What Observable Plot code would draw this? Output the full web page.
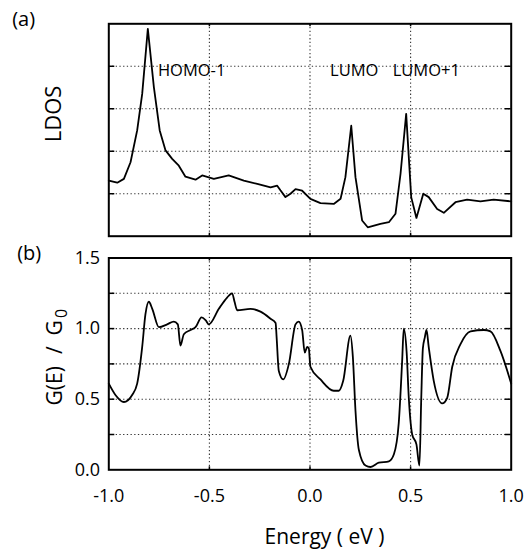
<!DOCTYPE html>
<html><head><meta charset="utf-8">
<script src="https://cdn.jsdelivr.net/npm/d3@7"></script>
<script src="https://cdn.jsdelivr.net/npm/@observablehq/plot@0.6"></script>
<style>
body{margin:0;background:#fff;}
#chart{width:532px;height:552px;}
svg{display:block;overflow:visible;}
</style>
</head><body><div id="chart"></div>
<script>
// Panel (a): LDOS vs energy
const energyA = [-1.0,-0.958,-0.925,-0.892,-0.859,-0.834,-0.806,-0.776,-0.747,-0.718,-0.685,-0.652,-0.619,-0.569,-0.536,-0.478,-0.404,-0.329,-0.262,-0.196,-0.163,-0.147,-0.122,-0.097,-0.072,-0.039,0.002,0.052,0.118,0.152,0.176,0.205,0.226,0.259,0.287,0.350,0.392,0.425,0.450,0.478,0.503,0.529,0.563,0.590,0.632,0.665,0.723,0.781,0.847,0.913,1.0];
const ldos = [1.31,1.26,1.35,1.74,2.49,3.35,4.88,3.51,2.49,2.02,1.82,1.66,1.40,1.33,1.43,1.35,1.43,1.31,1.23,1.15,1.19,1.08,0.92,1.00,1.11,1.07,0.88,0.78,0.76,0.88,1.39,2.60,1.39,0.37,0.21,0.29,0.33,0.53,1.47,2.88,0.92,0.43,1.00,0.92,0.64,0.55,0.80,0.86,0.82,0.86,0.82];

// Panel (b): conductance G(E)/G0 vs energy
const energyB = [-1.0,-0.967,-0.925,-0.884,-0.859,-0.834,-0.818,-0.801,-0.784,-0.751,-0.710,-0.677,-0.657,-0.644,-0.627,-0.594,-0.569,-0.539,-0.519,-0.503,-0.453,-0.412,-0.387,-0.375,-0.362,-0.296,-0.246,-0.196,-0.171,-0.166,-0.155,-0.133,-0.105,-0.072,-0.056,-0.039,-0.026,-0.014,-0.006,0.002,0.052,0.118,0.143,0.165,0.201,0.213,0.226,0.243,0.276,0.301,0.342,0.392,0.417,0.441,0.458,0.466,0.480,0.491,0.508,0.529,0.544,0.553,0.561,0.571,0.579,0.590,0.615,0.657,0.682,0.707,0.748,0.798,0.864,0.897,0.947,1.0];
const conductance = [0.61,0.53,0.48,0.53,0.61,0.87,1.10,1.19,1.14,1.01,1.03,1.05,1.03,0.88,0.96,0.99,1.01,1.08,1.06,1.03,1.14,1.22,1.25,1.19,1.13,1.14,1.12,1.07,1.04,0.94,0.70,0.64,0.75,1.03,1.05,0.99,0.83,0.87,0.86,0.73,0.64,0.56,0.56,0.63,0.95,0.80,0.42,0.14,0.03,0.02,0.05,0.06,0.11,0.33,0.77,1.00,0.84,0.51,0.25,0.18,0.03,0.51,0.86,0.94,0.99,0.87,0.63,0.47,0.51,0.73,0.89,0.98,0.99,0.98,0.84,0.61];

// Annotations
const peakLabels = ["HOMO-1","LUMO","LUMO+1"];
const peakLabelX = [-0.756, 0.100, 0.411];
const peakLabelY = [3.9, 3.9, 3.9];

// Ticks
const xTicks = [-1.0,-0.5,0.0,0.5,1.0];
const xGrid = [-0.5,0,0.5];
const yGridA = [1,2,3,4];
const yTicksB = [0.25,0.5,0.75,1.0,1.25];
const yLabelsB = [0.0,0.5,1.0,1.5];

const W = 532, mL = 108.3, mR = 21.3;
const plotW = W - mL - mR;
const font = "'Open Sans', sans-serif";
const gridStyle = {stroke:"#333", strokeOpacity:1, strokeWidth:1.1, strokeDasharray:"1.3,2.4"};

const dataA = energyA.map((e,i)=>({e, v: ldos[i]}));
const dataB = energyB.map((e,i)=>({e, v: conductance[i]}));
const ann = peakLabels.map((t,i)=>({t, x: peakLabelX[i], y: peakLabelY[i]}));

const hA = 240, mTA = 23.3, mBA = 4.3;
const plotHA = hA - mTA - mBA;
const svgA = Plot.plot({
  width: W, height: hA, marginLeft: mL, marginRight: mR, marginTop: mTA, marginBottom: mBA,
  style: {fontFamily: font, fontSize: "18px", color: "black", background: "white", overflow: "visible"},
  x: {domain: [-1, 1], axis: null},
  y: {domain: [0, 5], axis: null},
  marks: [
    Plot.gridX(xGrid, gridStyle),
    Plot.gridY(yGridA, gridStyle),
    Plot.ruleY(yGridA, {stroke:"black", strokeWidth:1.5, insetRight: plotW - 6}),
    Plot.ruleY(yGridA, {stroke:"black", strokeWidth:1.5, insetLeft: plotW - 6}),
    Plot.ruleX(xGrid, {stroke:"black", strokeWidth:1.5, insetTop: plotHA - 3}),
    Plot.ruleX(xGrid, {stroke:"black", strokeWidth:1.5, insetBottom: plotHA - 3}),
    Plot.line(dataA, {x:"e", y:"v", stroke:"black", strokeWidth:1.8}),
    Plot.text(ann, {x:"x", y:"y", text:"t", textAnchor:"start", lineAnchor:"middle", fontSize:16.5, fill:"black"}),
    Plot.frame({stroke:"black", strokeWidth:2}),
    Plot.text(["(a)"], {frameAnchor:"top-left", textAnchor:"start", lineAnchor:"middle", dx:-96.6, dy:-4.3, fontSize:20, fill:"black"}),
    Plot.text(["LDOS"], {frameAnchor:"left", textAnchor:"middle", lineAnchor:"middle", rotate:-90, dx:-55, dy:-16, fontSize:22, fill:"black"})
  ]
});

const hB = 312, mTB = 17.5, mBB = 82.7;
const plotHB = hB - mTB - mBB;
const svgB = Plot.plot({
  width: W, height: hB, marginLeft: mL, marginRight: mR, marginTop: mTB, marginBottom: mBB,
  style: {fontFamily: font, fontSize: "18px", color: "black", background: "white", overflow: "visible"},
  x: {domain: [-1, 1], axis: null},
  y: {domain: [0, 1.5], axis: null},
  marks: [
    Plot.gridX(xGrid, gridStyle),
    Plot.gridY(yTicksB, gridStyle),
    Plot.ruleY(yTicksB, {stroke:"black", strokeWidth:1.5, insetRight: plotW - 6}),
    Plot.ruleY(yTicksB, {stroke:"black", strokeWidth:1.5, insetLeft: plotW - 6}),
    Plot.ruleX(xGrid, {stroke:"black", strokeWidth:1.5, insetTop: plotHB - 3}),
    Plot.ruleX(xGrid, {stroke:"black", strokeWidth:1.5, insetBottom: plotHB - 3}),
    Plot.axisX(xTicks, {anchor:"bottom", tickSize:0, tickPadding:19, tickFormat: d => d.toFixed(1), label:null, fontSize:18}),
    Plot.axisY(yLabelsB, {anchor:"left", tickSize:0, tickPadding:8.7, tickFormat: d => d.toFixed(1), label:null, fontSize:18}),
    Plot.line(dataB, {x:"e", y:"v", stroke:"black", strokeWidth:1.8, curve:"monotone-x"}),
    Plot.frame({stroke:"black", strokeWidth:2}),
    Plot.text(["(b)"], {frameAnchor:"top-left", textAnchor:"start", lineAnchor:"middle", dx:-91.6, dy:-4.9, fontSize:20, fill:"black"}),
    Plot.text(["G(E) / G0"], {frameAnchor:"left", textAnchor:"middle", lineAnchor:"middle", rotate:-90, dx:-54, dy:-6.7, fontSize:21, fill:"black"}),
    Plot.text(["Energy ( eV )"], {frameAnchor:"bottom", textAnchor:"middle", lineAnchor:"middle", dx:14.5, dy:67.7, fontSize:21, fill:"black"})
  ]
});

const chart = document.getElementById("chart");
chart.appendChild(svgA);
chart.appendChild(svgB);

// Subscript 0 and spacing in the y label of panel (b)
const gLabel = Array.from(svgB.querySelectorAll("text")).find(t => t.textContent === "G(E) / G0");
if (gLabel) {
  const sel = d3.select(gLabel);
  sel.text(null);
  sel.append("tspan").text("G(E)");
  sel.append("tspan").attr("dx", 12).text("/");
  sel.append("tspan").attr("dx", 11).text("G");
  sel.append("tspan").attr("dx", 2).attr("dy", 5).attr("font-size", 16).text("0");
}
</script></body></html>
